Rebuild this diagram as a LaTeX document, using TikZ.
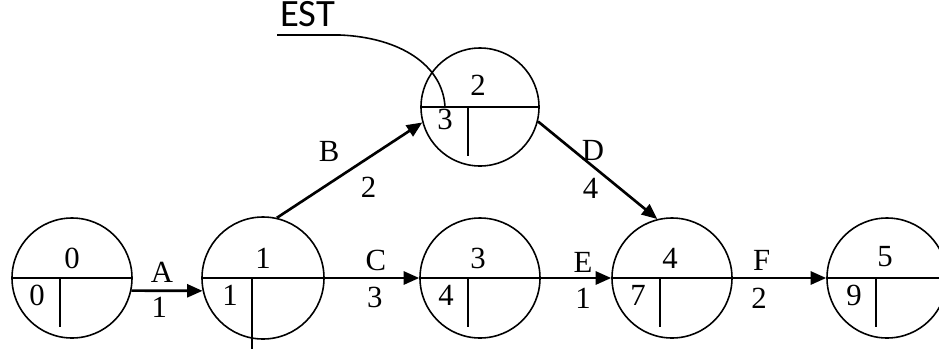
\documentclass[tikz,border=0pt]{standalone}
\usepackage{fontspec}
\setmainfont{Liberation Serif}
\newfontfamily\estfont{Carlito}
\usetikzlibrary{arrows.meta}

\begin{document}
\begin{tikzpicture}[
  event/.style={draw,circle,line width=0.9pt,minimum size=2.4cm,inner sep=0pt},
  rule/.style={line width=0.9pt},
  num/.style={font=\fontsize{17.5}{20}\selectfont,inner sep=1pt},
  act/.style={-{Triangle[length=0.31cm,width=0.26cm]},line width=1.5pt}]
  \useasboundingbox (0,0) rectangle (18.78,7);
  % events
  \node[event] (e0) at (1.44,1.44) {};
  \node[event,minimum size=2.44cm] (e1) at (5.26,1.44) {};
  \node[event,minimum size=2.36cm] (e2) at (9.6,4.86) {};
  \node[event] (e3) at (9.6,1.44) {};
  \node[event] (e4) at (13.44,1.44) {};
  \node[event] (e5) at (17.74,1.44) {};
  \draw[rule] (e0.west) -- (e0.east);
  \draw[rule] (e1.west) -- (e1.east);
  \draw[rule] (e2.west) -- (e2.east);
  \draw[rule] (e3.west) -- (e3.east);
  \draw[rule] (e4.west) -- (e4.east);
  \draw[rule] (e5.west) -- (e5.east);
  \draw[rule] ([xshift=-0.24cm]e0.center) -- ++(0,-0.98);
  \draw[rule] ([xshift=-0.22cm]e1.center) -- ++(0,-1.42);
  \draw[rule] ([xshift=-0.24cm]e2.center) -- ++(0,-0.98);
  \draw[rule] ([xshift=-0.24cm]e3.center) -- ++(0,-0.98);
  \draw[rule] ([xshift=-0.24cm]e4.center) -- ++(0,-0.98);
  \draw[rule] ([xshift=-0.22cm]e5.center) -- ++(0,-0.98);
  % event numbers
  \node[num] (n0) at ([yshift=0.4cm]e0.center) {0};
  \node[num] (n1) at ([yshift=0.4cm]e1.center) {1};
  \node[num] (n2) at ([xshift=-0.04cm,yshift=0.44cm]e2.center) {2};
  \node[num] (n3) at ([xshift=-0.04cm,yshift=0.4cm]e3.center) {3};
  \node[num] (n4) at ([xshift=-0.04cm,yshift=0.4cm]e4.center) {4};
  \node[num] (n5) at ([xshift=-0.04cm,yshift=0.42cm]e5.center) {5};
  % earliest start times
  \node[num] (s0) at ([xshift=-0.7cm,yshift=-0.34cm]e0.center) {0};
  \node[num] (s1) at ([xshift=-0.66cm,yshift=-0.34cm]e1.center) {1};
  \node[num] (s2) at ([xshift=-0.7cm,yshift=-0.24cm]e2.center) {3};
  \node[num] (s3) at ([xshift=-0.68cm,yshift=-0.34cm]e3.center) {4};
  \node[num] (s4) at ([xshift=-0.68cm,yshift=-0.34cm]e4.center) {7};
  \node[num] (s5) at ([xshift=-0.66cm,yshift=-0.34cm]e5.center) {9};
  % activities
  \draw[act] (e0.-12) -- (e1.192)
    node[num,pos=0.43,yshift=0.36cm] (lA) {A}
    node[num,pos=0.39,yshift=-0.34cm] (dA) {1};
  \draw[act] (e1.77.5) -- (e2.195)
    node[num,pos=0.36,yshift=0.64cm] (lB) {B}
    node[num,pos=0.63,yshift=-0.6cm] (dB) {2};
  \draw[act] (e1.east) -- (e3.west)
    node[num,pos=0.54,yshift=0.36cm] (lC) {C}
    node[num,pos=0.53,yshift=-0.38cm] (dC) {3};
  \draw[act] (e2.-14) -- (e4.104)
    node[num,pos=0.46,yshift=0.32cm] (lD) {D}
    node[num,pos=0.44,yshift=-0.48cm] (dD) {4};
  \draw[act] (e3.east) -- (e4.west)
    node[num,pos=0.6,yshift=0.32cm] (lE) {E}
    node[num,pos=0.6,yshift=-0.4cm] (dE) {1};
  \draw[act] (e4.east) -- (e5.west)
    node[num,pos=0.31,yshift=0.36cm] (lF) {F}
    node[num,pos=0.28,yshift=-0.4cm] (dF) {2};
  % EST callout
  \node[font=\estfont\fontsize{22}{24}\selectfont,inner sep=1pt] (est) at (6.15,6.72) {EST};
  \coordinate (estline) at (5.54,6.3);
  \draw[rule] (estline) -- (6.8,6.3) .. controls (8.0,6.25) and (8.85,5.7) .. (s2.north);
\end{tikzpicture}
\end{document}
